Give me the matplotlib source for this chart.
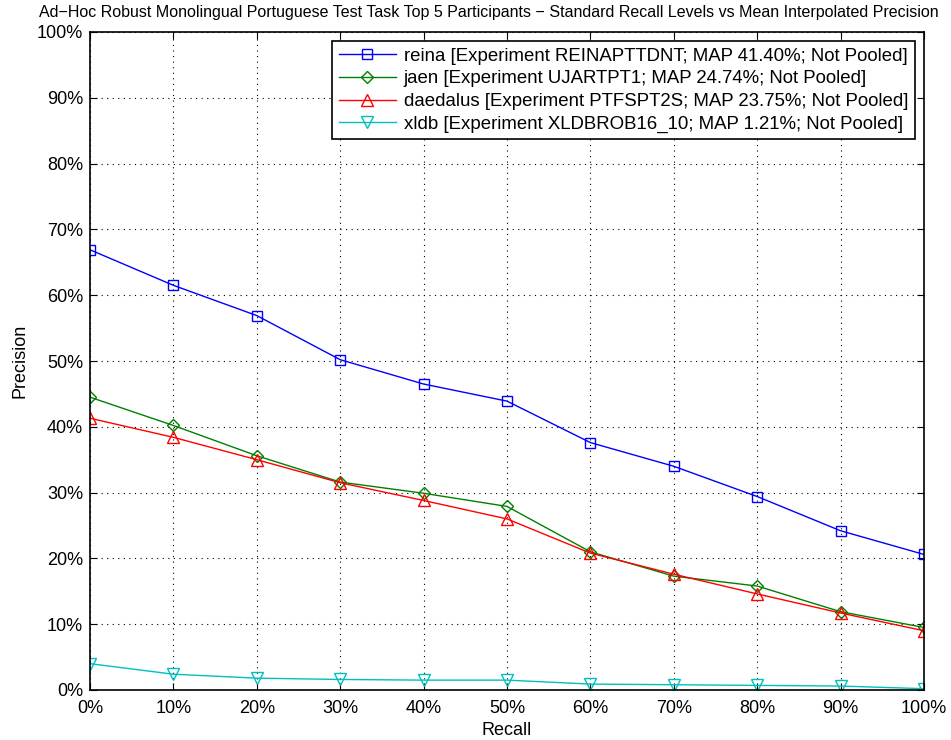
import matplotlib
matplotlib.use("Agg")
import matplotlib.pyplot as plt
from matplotlib.ticker import FuncFormatter

plt.rcParams["font.family"] = ["Liberation Sans", "DejaVu Sans"]

recall = [0, 10, 20, 30, 40, 50, 60, 70, 80, 90, 100]

reina = [66.9, 61.5, 56.9, 50.2, 46.5, 43.9, 37.6, 34.0, 29.4, 24.2, 20.6]
jaen = [44.5, 40.2, 35.6, 31.6, 29.9, 27.9, 21.0, 17.3, 15.8, 11.9, 9.5]
daedalus = [41.3, 38.4, 35.0, 31.5, 28.8, 26.0, 20.8, 17.6, 14.6, 11.7, 9.0]
xldb = [4.0, 2.4, 1.8, 1.6, 1.5, 1.5, 0.9, 0.8, 0.7, 0.6, 0.2]

labels = [
    "reina [Experiment REINAPTTDNT; MAP 41.40%; Not Pooled]",
    "jaen [Experiment UJARTPT1; MAP 24.74%; Not Pooled]",
    "daedalus [Experiment PTFSPT2S; MAP 23.75%; Not Pooled]",
    "xldb [Experiment XLDBROB16_10; MAP 1.21%; Not Pooled]",
]
colors = ["#0000ff", "#008000", "#ff0000", "#00bfbf"]
markers = ["s", "D", "^", "v"]
sizes = [7, 6.5, 8, 8]

fig = plt.figure(figsize=(9.51, 7.4), dpi=100)
ax = fig.add_axes([90 / 951, 1 - 690 / 740, (924 - 90) / 951, (690 - 32) / 740])

for ys, lab, c, m, ms in zip([reina, jaen, daedalus, xldb], labels, colors, markers, sizes):
    ax.plot(recall, ys, color=c, lw=1, marker=m, markersize=ms,
            markerfacecolor="none", markeredgecolor=c, markeredgewidth=1, label=lab)

ax.set_xlim(0, 100)
ax.set_ylim(0, 100)
ax.set_xticks(range(0, 101, 10))
ax.set_yticks(range(0, 101, 10))
pct = FuncFormatter(lambda v, p: f"{v:.0f}%")
ax.xaxis.set_major_formatter(pct)
ax.yaxis.set_major_formatter(pct)
ax.tick_params(direction="in", top=True, right=True, labelsize=13, length=5)
ax.tick_params(axis="x", pad=7)
ax.tick_params(axis="y", pad=5)
ax.grid(True, color="black", linestyle=(0, (1, 4)), linewidth=0.8)
for s in ax.spines.values():
    s.set_linewidth(1.2)

ax.set_xlabel("Recall", fontsize=13, labelpad=4)
ax.set_ylabel("Precision", fontsize=13, labelpad=6)
# title sits a bit left of the axes centre in the original
fig.text(489 / 951, 1 - 13 / 740,
         "Ad\u2212Hoc Robust Monolingual Portuguese Test Task Top 5 Participants \u2212 "
         "Standard Recall Levels vs Mean Interpolated Precision",
         fontsize=11.5, ha="center", va="center")

leg = ax.legend(loc="upper right", fontsize=13.4, fancybox=False, framealpha=1,
                edgecolor="black", borderaxespad=0.5, handlelength=3.1,
                labelspacing=0.3, borderpad=0.35, handletextpad=0.4)
leg.get_frame().set_linewidth(1.2)

fig.savefig("out.png", dpi=100)
